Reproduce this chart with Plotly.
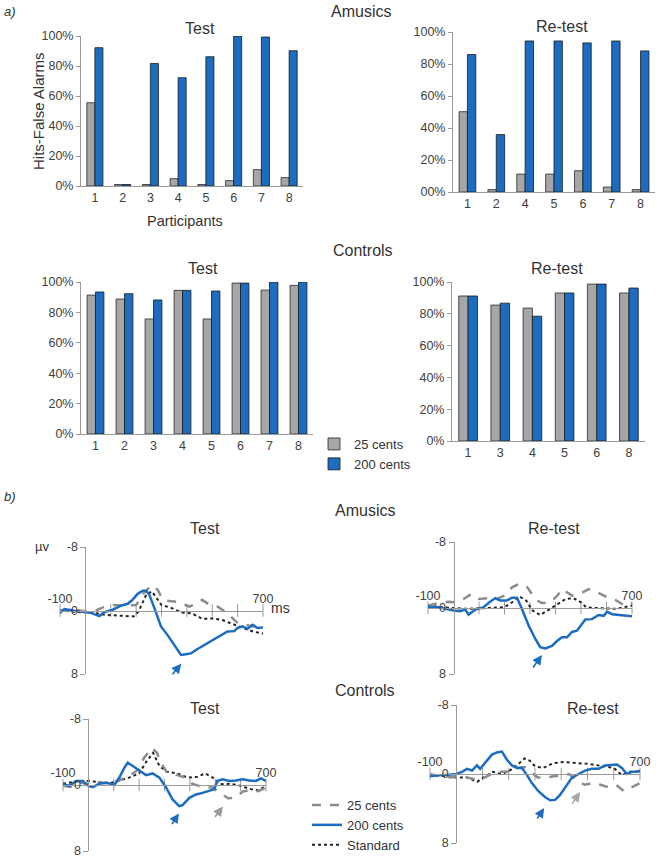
import plotly.graph_objects as go

W, H = 660, 860
FONT = "Liberation Sans, Arial, sans-serif"
TXT = "#404040"
AXC = "#9a9a9a"
C25 = "#a6a6a6"
C200 = "#1c6cc0"
CSTD = "#222222"
CDASH = "#8c8c8c"

# ---------------- a) behavioural data (Hits - False Alarms) ----------------
am_test_cats = ["1", "2", "3", "4", "5", "6", "7", "8"]
am_test_25 = [0.555, 0.01, 0.01, 0.049, 0.01, 0.036, 0.109, 0.056]
am_test_200 = [0.922, 0.01, 0.817, 0.722, 0.862, 1.00, 0.993, 0.902]

am_retest_cats = ["1", "2", "4", "5", "6", "7", "8"]
am_retest_25 = [0.502, 0.015, 0.112, 0.112, 0.133, 0.031, 0.015]
am_retest_200 = [0.859, 0.359, 0.944, 0.944, 0.932, 0.944, 0.882]

ct_test_cats = ["1", "2", "3", "4", "5", "6", "7", "8"]
ct_test_25 = [0.914, 0.888, 0.757, 0.945, 0.757, 0.993, 0.947, 0.978]
ct_test_200 = [0.934, 0.923, 0.882, 0.945, 0.941, 0.993, 1.00, 1.00]

ct_retest_cats = ["1", "3", "4", "5", "6", "8"]
ct_retest_25 = [0.912, 0.855, 0.836, 0.931, 0.987, 0.931]
ct_retest_200 = [0.912, 0.867, 0.785, 0.931, 0.987, 0.962]

pct_ticks = [0, 0.2, 0.4, 0.6, 0.8, 1.0]
pct_labels = ["0%", "20%", "40%", "60%", "80%", "100%"]
pct_labels_retest = ["00%", "20%", "40%", "60%", "80%", "100%"]

# ---------------- b) ERP data (µV, negative up) ----------------
am_test_t_200 = [-100, -83, -43, 0, 22, 55, 75, 108, 140, 167, 186, 206, 226, 239, 252, 272, 298, 324, 350,
                 377, 396, 416, 442, 482, 521, 560, 587, 600, 619, 639, 659, 678, 700]
am_test_v_200 = [0.3, -0.17, 0.04, 0.2, 0.3, 0.7, 0.2, -0.1, -0.6, -0.85, -1.35, -2.1, -2.5, -2.5, -2.0, -0.3,
                 2.0, 3.1, 4.3, 5.6, 5.5, 5.4, 4.85, 4.1, 3.4, 2.65, 2.6, 2.2, 2.0, 2.3, 1.8, 2.2, 2.15]
am_test_t_25 = [-100, -50, 0, 40, 70, 110, 150, 200, 230, 262, 285, 305, 330, 370, 410, 440, 460, 490, 520,
                560, 600, 630, 660, 690, 700]
am_test_v_25 = [0.1, -0.1, 0.1, 0.0, -0.4, -0.7, -0.6, -0.7, -2.2, -3.2, -2.6, -1.35, -1.2, -1.05, -0.5, -0.9,
                -1.35, -0.7, -0.5, 0.35, 1.6, 1.8, 2.0, 1.8, 1.7]
am_test_t_std = [-100, -50, 0, 40, 80, 120, 190, 210, 240, 262, 280, 300, 340, 380, 420, 460, 500, 540, 580,
                 620, 660, 700]
am_test_v_std = [0.0, 0.1, 0.2, 0.35, 0.55, 0.6, 0.75, 0.1, -2.0, -2.4, -1.55, -0.7, -0.3, 0.25, 0.35, 1.05,
                 1.0, 1.2, 1.7, 2.2, 2.65, 2.9]

am_retest_t_200 = [-100, -59, 0, 26, 46, 59, 85, 118, 137, 164, 183, 209, 229, 249, 268, 295, 321, 340, 360,
                   386, 406, 425, 445, 465, 484, 504, 517, 543, 569, 589, 602, 622, 648, 674, 700]
am_retest_v_200 = [-0.15, -0.1, 0.3, 0.4, 0.2, 0.8, 0.2, -0.1, -0.6, -1.2, -0.9, -0.9, -1.25, -1.25, 0.1, 2.15,
                   3.75, 4.75, 4.9, 4.6, 4.0, 3.55, 3.55, 2.9, 2.75, 1.95, 1.4, 1.35, 0.85, 0.95, 0.45, 0.75,
                   0.85, 0.95, 1.0]
am_retest_t_25 = [-100, -60, -20, 0, 40, 70, 100, 140, 170, 200, 230, 258, 290, 320, 345, 380, 410, 425, 465,
                  500, 530, 570, 610, 640, 670, 700]
am_retest_v_25 = [-0.3, -0.6, -0.75, -0.7, -1.1, -1.7, -1.1, -1.2, -1.1, -1.5, -2.5, -2.95, -2.5, -1.1, -0.6,
                  -0.7, -1.6, -2.3, -1.5, -1.8, -2.3, -1.8, -1.2, -0.9, -0.3, -0.6]
am_retest_t_std = [-100, -50, 0, 50, 100, 150, 200, 230, 258, 285, 310, 340, 370, 400, 440, 470, 500, 520, 560,
                   600, 640, 670, 700]
am_retest_v_std = [-0.3, -0.1, 0.0, 0.1, 0.05, 0.0, -0.1, -0.7, -1.4, -0.9, 0.3, 0.85, 0.3, -0.3, -1.1, -1.2,
                   -0.7, -0.1, 0.0, 0.05, 0.1, -0.1, -0.3]

ct_test_t_200 = [-100, -75, -49, -22, 0, 17, 43, 70, 102, 122, 142, 155, 175, 201, 227, 253, 280, 306, 332, 358,
                 371, 398, 424, 450, 476, 496, 509, 529, 555, 581, 608, 634, 660, 680, 700]
ct_test_v_200 = [-0.1, 0.1, -0.5, -0.5, 0.1, 0.25, -0.15, -0.3, 0.0, -0.9, -2.1, -2.7, -2.3, -1.7, -1.2, -1.4,
                 -0.9, 0.3, 1.75, 2.55, 2.45, 1.55, 1.15, 0.95, 0.65, 0.5, -0.5, -0.7, -0.5, -0.55, -0.7, -0.55,
                 -0.5, -0.8, -0.5]
ct_test_t_25 = [-100, -70, -30, 0, 40, 80, 120, 160, 190, 220, 250, 270, 290, 310, 340, 380, 410, 450, 490, 520,
                550, 580, 610, 640, 670, 700]
ct_test_v_25 = [0.1, 0.25, -0.3, -0.1, -0.3, -0.15, -0.55, -1.1, -1.7, -3.3, -4.5, -3.9, -2.5, -1.5, -1.3, -0.9,
                -0.15, 0.25, 0.3, 0.95, 1.6, 1.55, 0.75, 0.65, 0.75, 0.3]
ct_test_t_std = [-100, -50, 0, 40, 80, 120, 160, 200, 230, 255, 280, 310, 350, 390, 430, 460, 490, 520, 560,
                 600, 640, 670, 700]
ct_test_v_std = [-0.15, -0.4, -0.5, -0.35, -0.2, -0.5, -0.9, -1.4, -2.9, -3.9, -2.3, -1.6, -1.4, -0.9, -1.0,
                 -1.4, -0.9, -0.1, -0.15, 0.1, 0.5, 0.65, 0.1]

ct_retest_t_200 = [-100, -67, -29, 0, 22, 41, 60, 79, 91, 110, 136, 155, 174, 193, 212, 231, 250, 269, 288, 313,
                   339, 358, 377, 396, 421, 440, 466, 491, 516, 542, 567, 593, 612, 631, 650, 669, 694, 700]
ct_retest_v_200 = [0.27, 0.15, 0.1, 0.0, -0.25, -0.6, -0.4, -1.0, -0.6, -1.3, -2.25, -2.5, -2.6, -1.65, -1.0,
                   -0.7, -0.7, 0.1, 1.05, 2.0, 2.7, 3.05, 3.0, 2.4, 1.25, 0.45, 0.0, -0.4, -0.6, -0.6, -1.0,
                   -1.1, -1.1, -0.7, 0.0, -0.25, -0.3, -0.4]
ct_retest_t_25 = [-100, -60, -20, 0, 40, 80, 110, 140, 170, 200, 230, 260, 290, 310, 340, 370, 400, 430, 460,
                  490, 520, 550, 580, 610, 640, 670, 700]
ct_retest_v_25 = [0.0, 0.27, 0.4, 0.27, 0.4, 0.65, 0.4, -0.1, -0.25, -0.3, -0.7, -0.8, -0.1, 0.4, 0.45, 0.27,
                  0.2, 0.0, 0.8, 1.25, 1.05, 1.25, 1.55, 1.3, 2.0, 1.55, 1.05]
ct_retest_t_std = [-100, -50, 0, 40, 80, 110, 140, 170, 200, 240, 260, 280, 300, 330, 370, 410, 460, 510, 560,
                   600, 630, 660, 700]
ct_retest_v_std = [0.1, 0.27, 0.4, 0.4, 0.9, 0.27, -0.25, 0.0, -0.3, -1.25, -1.8, -1.55, -0.9, -0.7, -1.25,
                   -1.4, -1.25, -1.15, -0.9, -0.7, 0.1, -0.25, -0.3]

erp_x_ticks = [-100, 0, 100, 200, 300, 400, 500, 600, 700]
erp_x_labels = ["-100", "", "", "", "", "", "", "", "700"]
erp_tick_marks = [-100, 100, 200, 300, 400, 500, 600, 700]
erp_y_ticks = [-8, 0, 8]
erp_y_labels = ["-8", "0", "8"]


def xd(a, b):
    return [a / W, b / W]


def yd(top, bot):
    return [1 - bot / H, 1 - top / H]


def px(x):
    return x / W


def py(y):
    return 1 - y / H


fig = go.Figure()
layout = {}
annotations = []

tickfont = dict(family=FONT, size=12.5, color=TXT)

# ---------------- bar panels ----------------
bar_panels = [
    (1, am_test_cats, am_test_25, am_test_200, (81, 303), (36, 186), pct_labels),
    (2, am_retest_cats, am_retest_25, am_retest_200, (453, 655), (32, 192), pct_labels_retest),
    (3, ct_test_cats, ct_test_25, ct_test_200, (81, 313), (282, 434), pct_labels),
    (4, ct_retest_cats, ct_retest_25, ct_retest_200, (452, 645), (282, 441), pct_labels),
]
for i, cats, v25, v200, xr, yr, labels in bar_panels:
    sx = "" if i == 1 else str(i)
    fig.add_trace(go.Bar(x=cats, y=v25, name="25 cents", xaxis="x" + sx, yaxis="y" + sx,
                         marker=dict(color=C25, line=dict(color="#2a2a2a", width=0.8)),
                         showlegend=(i == 1), legend="legend", cliponaxis=False, hoverinfo="skip"))
    fig.add_trace(go.Bar(x=cats, y=v200, name="200 cents", xaxis="x" + sx, yaxis="y" + sx,
                         marker=dict(color=C200, line=dict(color="#1a1a1a", width=0.8)),
                         showlegend=(i == 1), legend="legend", cliponaxis=False, hoverinfo="skip"))
    layout["xaxis" + sx] = dict(domain=xd(*xr), anchor="y" + sx, type="category", showline=True,
                                linecolor=AXC, linewidth=1, ticks="", showgrid=False, zeroline=False,
                                tickfont=tickfont, fixedrange=True, automargin=False)
    layout["yaxis" + sx] = dict(domain=yd(*yr), anchor="x" + sx, range=[0, 1], tickvals=pct_ticks,
                                ticktext=labels, showline=True, linecolor=AXC, linewidth=1, ticks="outside",
                                ticklen=4, tickcolor=AXC, showgrid=False, zeroline=False, tickfont=tickfont,
                                fixedrange=True, automargin=False)

# ---------------- ERP panels ----------------
erp_panels = [
    (5, (am_test_t_25, am_test_v_25), (am_test_t_200, am_test_v_200), (am_test_t_std, am_test_v_std),
     (60, 263), (547, 674)),
    (6, (am_retest_t_25, am_retest_v_25), (am_retest_t_200, am_retest_v_200), (am_retest_t_std, am_retest_v_std),
     (428, 632), (542, 674)),
    (7, (ct_test_t_25, ct_test_v_25), (ct_test_t_200, ct_test_v_200), (ct_test_t_std, ct_test_v_std),
     (63, 266), (719, 851)),
    (8, (ct_retest_t_25, ct_retest_v_25), (ct_retest_t_200, ct_retest_v_200), (ct_retest_t_std, ct_retest_v_std),
     (430, 640), (705, 843)),
]
for i, s25, s200, sstd, xr, yr in erp_panels:
    sx = str(i)
    xa, ya = "x" + sx, "y" + sx
    first = (i == 5)
    fig.add_trace(go.Scatter(x=erp_tick_marks, y=[0] * len(erp_tick_marks), mode="markers", xaxis=xa, yaxis=ya,
                             marker=dict(symbol="line-ns-open", size=9, color=AXC, line=dict(color=AXC, width=1)),
                             showlegend=False, hoverinfo="skip", cliponaxis=False))
    fig.add_trace(go.Scatter(x=sstd[0], y=sstd[1], mode="lines", name="Standard", xaxis=xa, yaxis=ya,
                             line=dict(color=CSTD, width=2, dash="dot"), legend="legend2",
                             legendrank=3, showlegend=first, hoverinfo="skip"))
    fig.add_trace(go.Scatter(x=s25[0], y=s25[1], mode="lines", name="25 cents", xaxis=xa, yaxis=ya,
                             line=dict(color=CDASH, width=2.5, dash="dash"), legend="legend2",
                             legendrank=1, showlegend=first, hoverinfo="skip"))
    fig.add_trace(go.Scatter(x=s200[0], y=s200[1], mode="lines", name="200 cents", xaxis=xa, yaxis=ya,
                             line=dict(color=C200, width=2.5), legend="legend2",
                             legendrank=2, showlegend=first, hoverinfo="skip"))
    xdom = xd(*xr)
    ydom = yd(*yr)
    layout["xaxis" + sx] = dict(domain=xdom, anchor="free", position=(ydom[0] + ydom[1]) / 2,
                                range=[-100, 700], side="top", showline=True, linecolor=AXC, linewidth=1,
                                tickvals=erp_x_ticks, ticktext=erp_x_labels, ticks="", showgrid=False,
                                zeroline=False, tickfont=tickfont, fixedrange=True, automargin=False,
                                ticklabelstandoff=3)
    layout["yaxis" + sx] = dict(domain=ydom, anchor="free",
                                position=xdom[0] + (xdom[1] - xdom[0]) * 100 / 800,
                                range=[8, -8], showline=True, linecolor=AXC, linewidth=1, tickvals=erp_y_ticks,
                                ticktext=erp_y_labels, ticks="outside", ticklen=5, tickcolor=AXC,
                                showgrid=False, zeroline=False, tickfont=tickfont, fixedrange=True,
                                automargin=False)


def ann(text, x, y, size=15, **kw):
    d = dict(text=text, x=px(x), y=py(y), xref="paper", yref="paper", showarrow=False,
             xanchor="center", yanchor="middle",
             font=dict(family=FONT, size=size, color="#333333"))
    d.update(kw)
    annotations.append(d)


# panel labels and titles
ann("<i>a)</i>", 10, 11, size=13)
ann("<i>b)</i>", 10, 497, size=13)
ann("Amusics", 361, 11, size=16)
ann("Controls", 363, 250, size=16)
ann("Amusics", 365, 510, size=16)
ann("Controls", 365, 690, size=16)
ann("Test", 200, 28, size=16)
ann("Re-test", 562, 27, size=16)
ann("Test", 203, 268, size=16)
ann("Re-test", 557, 268, size=16)
ann("Test", 205, 528, size=16)
ann("Re-test", 554, 528, size=16)
ann("Test", 205, 708, size=16)
ann("Re-test", 593, 708, size=16)
ann("Participants", 185, 221, size=14.5)
ann("Hits-False Alarms", 38, 111, size=15, textangle=-90)
ann("µv", 42, 546, size=13)
ann("ms", 280, 608, size=14)

# arrows (head at data point, tail offset in px)
arrows = [
    ("x5", "y5", 378, 6.7, -10, 12, C200),
    ("x6", "y6", 347, 5.7, -10, 14, C200),
    ("x7", "y7", 357, 3.45, -8, 12, C200),
    ("x7", "y7", 530, 2.6, -9, 12, "#9a9a9a"),
    ("x8", "y8", 335, 3.95, -8, 12, C200),
    ("x8", "y8", 472, 2.1, -9, 13, "#a6a6a6"),
]
for xa, ya, x, y, axo, ayo, col in arrows:
    annotations.append(dict(x=x, y=y, xref=xa, yref=ya, text="", showarrow=True, ax=axo, ay=ayo,
                            arrowhead=2, arrowsize=1.2, arrowwidth=1.6, arrowcolor=col))

fig.update_layout(
    **layout,
    template="none",
    annotations=annotations,
    width=W, height=H, autosize=False,
    margin=dict(l=0, r=0, t=0, b=0, pad=0),
    paper_bgcolor="white", plot_bgcolor="white",
    barmode="group", bargap=0.42, bargroupgap=0,
    font=dict(family=FONT, color=TXT),
    showlegend=True,
    legend=dict(x=px(314), y=py(429), xanchor="left", yanchor="top", bgcolor="rgba(0,0,0,0)",
                font=dict(family=FONT, size=13, color="#333333"), tracegroupgap=0, itemwidth=30),
    legend2=dict(x=px(307), y=0, xanchor="left", yanchor="bottom", bgcolor="rgba(0,0,0,0)",
                 font=dict(family=FONT, size=13, color="#333333"), tracegroupgap=0, itemwidth=30),
)

fig.write_html(
    "out.html",
    config={"displayModeBar": False},
    post_script="document.body.style.margin='0';document.body.style.overflow='hidden';",
)
